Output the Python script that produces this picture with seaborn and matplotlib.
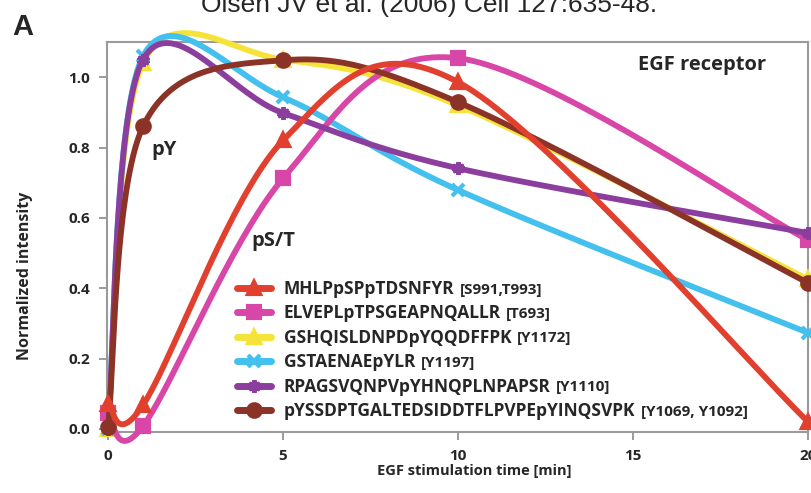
import numpy as np
import matplotlib
matplotlib.use("Agg")
import matplotlib.pyplot as plt
from matplotlib.lines import Line2D
import seaborn as sns

# time points (min)
times = [0, 1, 5, 10, 20]

# peptides, sites and intensities
peptides = ["MHLPpSPpTDSNFYR", "ELVEPLpTPSGEAPNQALLR", "GSHQISLDNPDpYQQDFFPK",
            "GSTAENAEpYLR", "RPAGSVQNPVpYHNQPLNPAPSR", "pYSSDPTGALTEDSIDDTFLPVPEpYINQSVPK"]
sites = ["[S991,T993]", "[T693]", "[Y1172]", "[Y1197]", "[Y1110]", "[Y1069, Y1092]"]
red_vals = [0.07, 0.068, 0.82, 0.986, 0.02]
magenta_vals = [0.045, 0.008, 0.712, 1.054, 0.537]
yellow_vals = [0.0, 1.04, 1.05, 0.92, 0.425]
cyan_vals = [0.0, 1.06, 0.943, 0.679, 0.273]
purple_vals = [0.0, 1.05, 0.898, 0.741, 0.557]
brown_vals = [0.005, 0.86, 1.048, 0.929, 0.415]

series = [red_vals, magenta_vals, yellow_vals, cyan_vals, purple_vals, brown_vals]
colors = ["#e2402f", "#d846a8", "#f6e33a", "#43c0ee", "#8b3e9d", "#8c3327"]
markers = ["^", "s", "^", "x", (6, 2, 0), "o"]
zorders = [7, 5, 3, 4, 5.5, 6]

sns.set_theme(style="white")
plt.rcParams["font.family"] = ["Open Sans", "DejaVu Sans"]


def smooth(t, v, n=40):
    # excel-like bezier smoothing, done in (roughly) screen units
    sx, sy = 35.0, 352.0
    p = np.column_stack([np.asarray(t, float) * sx, np.asarray(v, float) * sy])
    pp = np.vstack([p[0], p, p[-1]])
    out = []
    s = np.linspace(0, 1, n)[:, None]
    for i in range(len(p) - 1):
        a, b = pp[i + 1], pp[i + 2]
        c1 = a + (pp[i + 2] - pp[i]) / 6
        c2 = b - (pp[i + 3] - pp[i + 1]) / 6
        out.append((1 - s) ** 3 * a + 3 * (1 - s) ** 2 * s * c1 + 3 * (1 - s) * s ** 2 * c2 + s ** 3 * b)
    q = np.vstack(out)
    return q[:, 0] / sx, q[:, 1] / sy


fig = plt.figure(figsize=(8.12, 4.93), dpi=100)
ax = fig.add_axes([107 / 812, 1 - 432 / 493, 701 / 812, 390 / 493])

for vals, c, m, z in zip(series, colors, markers, zorders):
    xs, ys = smooth(times, vals)
    sns.lineplot(x=xs, y=ys, sort=False, estimator=None, color=c, lw=4.2, ax=ax,
                 zorder=z, clip_on=False)
    ax.plot(times, vals, ls="none", marker=m, ms=9, mew=3, color=c, zorder=z, clip_on=False)

ax.set_xlim(-0.03, 20.0)
ax.set_ylim(-0.009, 1.1)
ax.set_xticks([0, 5, 10, 15, 20])
ax.set_yticks([0.0, 0.2, 0.4, 0.6, 0.8, 1.0])
ax.set_yticklabels(["0.0", "0.2", "0.4", "0.6", "0.8", "1.0"])
ax.tick_params(axis="both", direction="out", length=6, width=1.2, color="#8a8a8a",
               labelsize=11, pad=6, bottom=True, left=True)
for lab in ax.get_xticklabels() + ax.get_yticklabels():
    lab.set_fontweight("bold")
for sp in ax.spines.values():
    sp.set_color("#9a9a9a")
    sp.set_linewidth(1.5)

ax.set_xlabel("EGF stimulation time [min]", fontsize=10.5, fontweight="bold")
ax.set_ylabel("Normalized intensity", fontsize=11.5, fontweight="bold")
ax.xaxis.set_label_coords(0.524, -0.083)
ax.yaxis.set_label_coords(-0.105, 0.40)

ax.text(0.94, 0.94, "EGF receptor", transform=ax.transAxes, ha="right", va="center",
        fontsize=14.5, fontweight="bold")
ax.text(1.25, 0.78, "pY", fontsize=14.5, fontweight="bold")
ax.text(4.1, 0.52, "pS/T", fontsize=14.5, fontweight="bold")

handles = [Line2D([], [], color=c, lw=5, marker=m, ms=9, mew=3)
           for c, m in zip(colors, markers)]
leg = ax.legend(handles, peptides, loc="upper left", bbox_to_anchor=(0.185, 0.39),
                frameon=False, borderpad=0, borderaxespad=0, handlelength=2.0,
                handletextpad=0.7, labelspacing=0.37,
                prop={"weight": "bold", "size": 12.5})

fig.text(0.528, 1 - 12 / 493, "Olsen JV et al. (2006) Cell 127:635-48.", ha="center",
         va="baseline", fontsize=19, family=["Liberation Sans", "DejaVu Sans"])
fig.text(0.015, 1 - 35 / 493, "A", ha="left", va="baseline", fontsize=21,
         fontweight="bold", family=["Liberation Sans", "DejaVu Sans"])

# the site tags sit right after each legend label, so lay out the legend first
fig.canvas.draw()
for txt, site in zip(leg.get_texts(), sites):
    ax.annotate(site, xy=(1, 0), xycoords=txt, xytext=(4, 1.0), textcoords="offset points",
                fontsize=11, fontweight="bold", va="bottom", ha="left")

fig.savefig("out.png", dpi=100)
